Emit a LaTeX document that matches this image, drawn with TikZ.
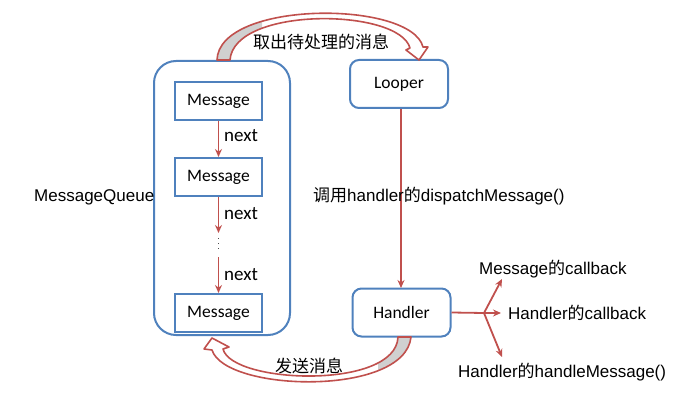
\documentclass[tikz,border=0pt]{standalone}
\usepackage{fontspec}
\setmainfont{Liberation Sans}
\newfontfamily\cjkfont{Noto Sans CJK SC}
\newfontfamily\calfont{Carlito}
\usetikzlibrary{arrows.meta}
\definecolor{boxblue}{RGB}{79,129,189}
\definecolor{arrred}{RGB}{192,80,77}
\definecolor{bandgray}{RGB}{208,208,208}
\tikzset{
  msgbox/.style={draw=boxblue, line width=2pt, minimum width=87pt, minimum height=38pt, inner sep=0pt, font=\calfont\fontsize{17.5}{18}\selectfont},
  roundbox/.style={draw=boxblue, line width=2pt, rounded corners=9pt, minimum width=98pt, minimum height=48pt, inner sep=0pt, font=\calfont\fontsize{17.5}{18}\selectfont},
  redarrow/.style={draw=arrred, line width=1.8pt, -{Stealth[length=8pt,width=7pt]}},
  redline/.style={draw=arrred, line width=1.8pt},
  lbl/.style={inner sep=0pt, font=\fontsize{17}{18}\selectfont},
  nextlbl/.style={inner sep=0pt, anchor=west, font=\calfont\fontsize{19}{20}\selectfont},
  band/.style={draw=arrred, line width=1.6pt, line join=round}
}
\begin{document}
\begin{tikzpicture}[x=1pt,y=-1pt]
\useasboundingbox (0,0) rectangle (674,409);
% message queue container
\draw[boxblue, line width=2pt, rounded corners=22pt] (154,61) rectangle (290,335);
\node[msgbox] (m1) at (218.5,101) {Message};
\node[msgbox] (m2) at (218.5,177) {Message};
\node[msgbox] (m3) at (218.5,313) {Message};
\node[lbl, anchor=west] (mq) at (34,197) {MessageQueue};
% next arrows
\coordinate (a2) at (218.5,233);
\coordinate (d1) at (218.5,238);
\coordinate (d2) at (218.5,251);
\coordinate (a3) at (218.5,257);
\draw[redarrow] (m1.south) -- (m2.north);
\draw[redarrow] (m2.south) -- (a2);
\draw[black!70, line width=1pt, dash pattern=on 1pt off 4pt] (d1) -- (d2);
\draw[redarrow] (a3) -- (m3.north);
\node[nextlbl] (n1) at (224,136) {next};
\node[nextlbl] (n2) at (224,214) {next};
\node[nextlbl] (n3) at (224,275) {next};
% looper & handler
\node[roundbox] (looper) at (399,84) {Looper};
\node[roundbox] (handler) at (401.5,312.5) {Handler};
\draw[redarrow] (looper.south -| 401,0) -- (401,288);
\node[lbl, anchor=west] (disp) at (313,196) {{\cjkfont 调用}handler{\cjkfont 的}dispatchMessage()};
% branch
\coordinate (br) at (484,313);
\coordinate (t1) at (502,279);
\coordinate (t2) at (501,313);
\coordinate (t3) at (502,357);
\draw[redline] (handler.east) -- (br);
\draw[redarrow] (br) -- (t1);
\draw[redarrow] (br) -- (t2);
\draw[redarrow] (br) -- (t3);
\node[lbl, anchor=west] (c1) at (479,269) {Message{\cjkfont 的}callback};
\node[lbl, anchor=west] (c2) at (508,313) {Handler{\cjkfont 的}callback};
\node[lbl, anchor=west] (c3) at (458,372) {Handler{\cjkfont 的}handleMessage()};
% top curved arrow
\def\topband{(217,60) .. controls (219,0) and (411,0) .. (423,47) -- (428,47) -- (419,60) -- (406,50) -- (410,48) .. controls (399,8) and (234,6) .. (230,60) -- cycle}
\fill[white] \topband;
\begin{scope}
\clip (200,0) rectangle (262,70);
\fill[bandgray] \topband;
\end{scope}
\draw[band] \topband;
\node[lbl, font=\cjkfont\fontsize{17}{18}\selectfont] (t) at (321,42) {取出待处理的消息};
% bottom curved arrow
\def\botband{(411,337) .. controls (405,397) and (225,392) .. (212,350) -- (204,349) -- (212,338) -- (229,347) -- (223,349) .. controls (232,384) and (396,390) .. (398,337) -- cycle}
\fill[white] \botband;
\begin{scope}
\clip (378,330) rectangle (420,400);
\fill[bandgray] \botband;
\end{scope}
\draw[band] \botband;
\node[lbl, font=\cjkfont\fontsize{17}{18}\selectfont] (s) at (309,366) {发送消息};
\end{tikzpicture}
\end{document}
